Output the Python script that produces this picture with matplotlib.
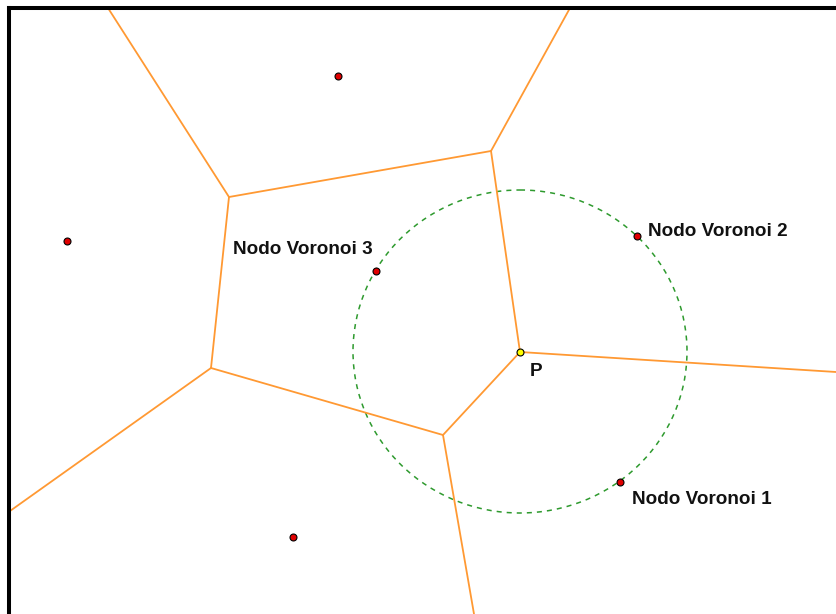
import matplotlib.pyplot as plt
from matplotlib.patches import Ellipse

# generator points (image pixel coords, y down)
sites_x = [338, 67, 376, 637, 620, 293]
sites_y = [76, 241, 271, 236, 482, 537]

# voronoi vertex P and the (slightly squashed) empty circle
p_x, p_y = 520, 352
circ_w, circ_h = 334, 323

# voronoi edges: (x0, y0, x1, y1)
edges = [
    (108, 8, 229, 197),
    (229, 197, 491, 151),
    (491, 151, 570, 8),
    (229, 197, 211, 368),
    (211, 368, 10, 511),
    (211, 368, 443, 435),
    (443, 435, 520, 352),
    (491, 151, 520, 352),
    (520, 352, 836, 372),
    (443, 435, 474, 614),
]

labels = ["Nodo Voronoi 3", "Nodo Voronoi 2", "Nodo Voronoi 1", "P"]
label_x = [233, 648, 632, 530]
label_y = [249, 231, 499, 372]

fig = plt.figure(figsize=(8.36, 6.14), dpi=100)
ax = fig.add_axes([9 / 836, 0, 1 - 9 / 836, 1 - 8 / 614])
ax.set_xlim(9, 836)
ax.set_ylim(614, 8)
ax.set_xticks([])
ax.set_yticks([])
for s in ['right', 'bottom']:
    ax.spines[s].set_visible(False)
for s in ['left', 'top']:
    ax.spines[s].set_linewidth(2.9)
    ax.spines[s].set_color('black')

orange = '#ff9933'
for x0, y0, x1, y1 in edges:
    ax.plot([x0, x1], [y0, y1], color=orange, lw=1.3, zorder=2)

circ = Ellipse((p_x, p_y - 0.5), circ_w, circ_h, fill=False,
               edgecolor='#2e9a2e', lw=1.1, ls=(0, (3.3, 3.3)), zorder=1)
ax.add_patch(circ)

ax.plot(sites_x, sites_y, 'o', color='#e00000', mec='black', mew=0.8,
        ms=5, zorder=4)
ax.plot([p_x], [p_y], 'o', color='#ffff00', mec='black', mew=0.8,
        ms=5, zorder=4)

for t, x, y in zip(labels, label_x, label_y):
    ax.text(x, y, t, fontsize=13.6, fontweight='bold', family='Liberation Sans',
            ha='left', va='center', color='#111111', zorder=5)

fig.savefig('out.png', dpi=100)
